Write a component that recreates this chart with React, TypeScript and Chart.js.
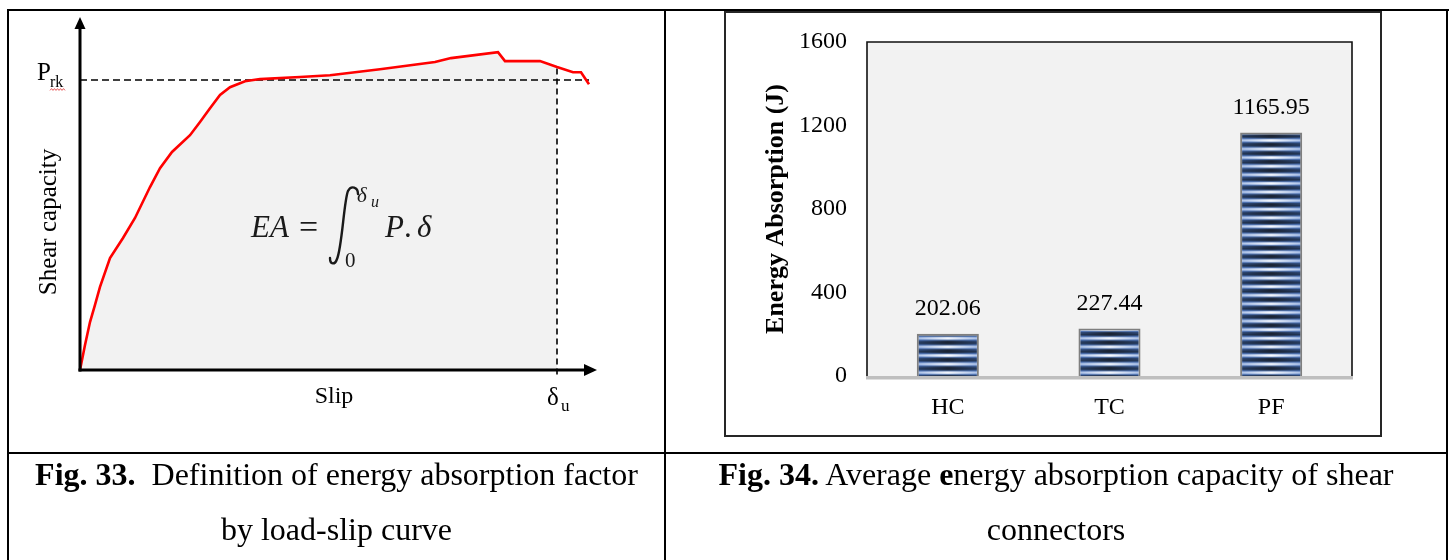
import React, { useEffect, useRef } from 'react';
import { Chart, registerables } from 'chart.js';

Chart.register(...registerables);

const SERIF = "'Liberation Serif', 'Times New Roman', serif";

// ---- Fig. 33: load-slip sketch (arbitrary units) ----
const SLIP = [0, 0.5, 1.0, 1.5, 2.0, 3.0, 4.3, 5.5, 7.0, 8.0, 9.2, 11.0, 12.0, 13.0, 14.0, 15.0, 16.5, 18.0, 22.0, 25.0, 30.0, 35.5, 37.1, 41.8, 42.5, 46.0, 47.7, 49.3, 50.1, 50.9];
const LOAD = [0, 8.3, 16.0, 21.7, 27.7, 37.3, 44.0, 50.7, 61.0, 67.3, 72.7, 78.3, 82.7, 87.3, 91.7, 94.3, 96.3, 97.0, 97.7, 98.3, 100.3, 102.7, 104.0, 106.0, 103.0, 103.0, 101.0, 99.3, 99.3, 95.3];
const P_RK = 96.7;
const DELTA_U = 47.7;
const SLIP_MAX = 51.7;
const LOAD_MAX = 117.7;

// ---- Fig. 34: average energy absorption ----
const CATEGORIES = ['HC', 'TC', 'PF'];
const ENERGY = [202.06, 227.44, 1165.95];
const Y_TICKS = [0, 400, 800, 1200, 1600];

// stripe look of the bars: [edge colour, centre colour] per pixel row
const STRIPE_ROWS: [string, string][] = [
  ['#2b4470', '#1a2231'],
  ['#223655', '#1b2434'],
  ['#2e4a7a', '#212d41'],
  ['#4a6fb0', '#4d6793'],
  ['#86a3d6', '#d0dcf0'],
  ['#b0c5ea', '#fbfcff'],
  ['#86a3d6', '#d6e1f3'],
  ['#4a6fb0', '#56719f'],
  ['#2e4a7a', '#233044'],
];

const stripeCache: Record<number, HTMLCanvasElement> = {};
function makeStripes(w: number): HTMLCanvasElement {
  const W = Math.max(1, Math.round(w));
  if (stripeCache[W]) return stripeCache[W];
  const c = document.createElement('canvas');
  c.width = W;
  c.height = STRIPE_ROWS.length;
  const g = c.getContext('2d')!;
  STRIPE_ROWS.forEach(([edge, mid], r) => {
    const gr = g.createLinearGradient(0, 0, W, 0);
    gr.addColorStop(0, edge);
    gr.addColorStop(0.5, mid);
    gr.addColorStop(1, edge);
    g.fillStyle = gr;
    g.fillRect(0, r, W, 1);
  });
  stripeCache[W] = c;
  return c;
}

const OX = 9;
const OY = 11;

function LoadSlipChart() {
  const ref = useRef<HTMLCanvasElement>(null);
  useEffect(() => {
    const canvas = ref.current!;
    const curve = SLIP.map((x, i) => ({ x, y: LOAD[i] }));
    const filled = curve.filter((p) => p.x <= DELTA_U);
    const prkLine = [{ x: 0, y: P_RK }, { x: SLIP[SLIP.length - 1], y: P_RK }];
    const duLine = [{ x: DELTA_U, y: -1.5 }, { x: DELTA_U, y: LOAD[SLIP.indexOf(DELTA_U)] }];

    const annot = {
      id: 'annot',
      afterDatasetsDraw(chart: any) {
        const { ctx, scales } = chart;
        const xs = scales.x;
        const ys = scales.y;
        const x0 = xs.getPixelForValue(0);
        const y0 = ys.getPixelForValue(0);
        const xEnd = xs.getPixelForValue(SLIP_MAX);
        const yEnd = ys.getPixelForValue(LOAD_MAX);
        ctx.save();
        ctx.strokeStyle = '#000';
        ctx.fillStyle = '#000';
        ctx.lineWidth = 3;
        // y axis with arrow
        ctx.beginPath();
        ctx.moveTo(x0, y0 + 1.5);
        ctx.lineTo(x0, yEnd + 10);
        ctx.stroke();
        ctx.beginPath();
        ctx.moveTo(x0, yEnd);
        ctx.lineTo(x0 - 5.5, yEnd + 12);
        ctx.lineTo(x0 + 5.5, yEnd + 12);
        ctx.closePath();
        ctx.fill();
        // x axis with arrow
        ctx.beginPath();
        ctx.moveTo(x0 - 1.5, y0);
        ctx.lineTo(xEnd - 10, y0);
        ctx.stroke();
        ctx.beginPath();
        ctx.moveTo(xEnd, y0);
        ctx.lineTo(xEnd - 13, y0 - 6);
        ctx.lineTo(xEnd - 13, y0 + 6);
        ctx.closePath();
        ctx.fill();

        // text, given in page coordinates
        ctx.translate(-OX, -OY);
        const txt = (s: string, x: number, y: number, font: string, align: CanvasTextAlign = 'left') => {
          ctx.font = font;
          ctx.textAlign = align;
          ctx.textBaseline = 'alphabetic';
          ctx.fillText(s, x, y);
        };
        // P_rk
        txt('P', 37, 80, `25px ${SERIF}`);
        txt('rk', 50, 87, `16px ${SERIF}`);
        ctx.strokeStyle = '#e03030';
        ctx.lineWidth = 0.8;
        ctx.beginPath();
        for (let x = 50; x <= 66; x += 1.5) {
          const y = 89.5 + (Math.round(x / 1.5) % 2 === 0 ? -0.9 : 0.9);
          if (x === 50) ctx.moveTo(x, y);
          else ctx.lineTo(x, y);
        }
        ctx.stroke();

        // Shear capacity (rotated)
        ctx.save();
        ctx.translate(49, 222);
        ctx.rotate(-Math.PI / 2);
        ctx.font = `25px ${SERIF}`;
        ctx.textAlign = 'center';
        ctx.textBaseline = 'middle';
        ctx.fillText('Shear capacity', 0, 0);
        ctx.restore();

        // Slip and delta_u
        txt('Slip', 334, 403, `24px ${SERIF}`, 'center');
        txt('\u03b4', 547, 405, `25px ${SERIF}`);
        txt('u', 561, 411, `17px ${SERIF}`);

        // formula  EA = ∫0^δu P. δ
        ctx.fillStyle = '#1a1a1a';
        txt('EA', 251, 237, `italic 31px ${SERIF}`);
        txt('=', 299, 238, `34px ${SERIF}`);
        ctx.strokeStyle = '#1a1a1a';
        ctx.lineWidth = 2.4;
        ctx.lineCap = 'round';
        ctx.beginPath();
        ctx.moveTo(358, 194);
        ctx.bezierCurveTo(358, 187, 351, 185, 348, 191);
        ctx.bezierCurveTo(344, 200, 342, 248, 337, 259);
        ctx.bezierCurveTo(335, 265, 330, 265, 330, 258);
        ctx.stroke();
        txt('\u03b4', 357, 202, `italic 21px ${SERIF}`);
        txt('u', 371, 207, `italic 16px ${SERIF}`);
        txt('0', 345, 267, `21px ${SERIF}`);
        txt('P', 385, 237, `italic 31px ${SERIF}`);
        txt('.', 404, 237, `31px ${SERIF}`);
        txt('\u03b4', 417, 237, `italic 31px ${SERIF}`);
        ctx.restore();
      },
    };

    const chart = new Chart(canvas, {
      type: 'line',
      data: {
        datasets: [
          { data: curve, borderColor: '#ff0000', borderWidth: 2.6, pointRadius: 0, fill: false, tension: 0, order: 0, clip: false } as any,
          { data: prkLine, borderColor: '#000', borderWidth: 1.6, borderDash: [7, 4], pointRadius: 0, fill: false, order: 1, clip: false } as any,
          { data: duLine, borderColor: '#000', borderWidth: 1.6, borderDash: [6, 4], pointRadius: 0, fill: false, order: 1, clip: false } as any,
          { data: filled, borderColor: 'transparent', borderWidth: 0, backgroundColor: '#f2f2f2', fill: 'origin', pointRadius: 0, order: 3 } as any,
        ],
      },
      options: {
        responsive: false,
        animation: false,
        events: [],
        layout: { padding: { left: 71, right: 66, top: 6, bottom: 81 } },
        scales: {
          x: { type: 'linear', display: false, min: 0, max: SLIP_MAX },
          y: { type: 'linear', display: false, min: 0, max: LOAD_MAX },
        },
        plugins: { legend: { display: false }, tooltip: { enabled: false } },
      },
      plugins: [annot],
    });
    return () => chart.destroy();
  }, []);
  return (
    <canvas
      ref={ref}
      width={654}
      height={440}
      style={{ position: 'absolute', left: OX, top: OY, width: 654, height: 440 }}
    />
  );
}

const BAR_PCT = 0.384;

function EnergyChart() {
  const ref = useRef<HTMLCanvasElement>(null);
  useEffect(() => {
    const canvas = ref.current!;
    const plotDeco = {
      id: 'plotDeco',
      beforeDraw(chart: any) {
        const { ctx, chartArea: a } = chart;
        ctx.save();
        ctx.fillStyle = '#f2f2f2';
        ctx.fillRect(a.left, a.top, a.right - a.left, a.bottom - a.top);
        ctx.restore();
      },
      beforeDatasetsDraw(chart: any) {
        const { ctx, chartArea: a } = chart;
        ctx.save();
        ctx.strokeStyle = '#111';
        ctx.lineWidth = 1.6;
        ctx.beginPath();
        ctx.moveTo(a.left, a.bottom);
        ctx.lineTo(a.left, a.top);
        ctx.lineTo(a.right, a.top);
        ctx.lineTo(a.right, a.bottom);
        ctx.stroke();
        ctx.restore();
      },
      afterDatasetsDraw(chart: any) {
        const { ctx, chartArea: a } = chart;
        ctx.save();
        ctx.strokeStyle = '#bfbfbf';
        ctx.lineWidth = 3.4;
        ctx.beginPath();
        ctx.moveTo(a.left - 1, a.bottom + 1.7);
        ctx.lineTo(a.right + 1, a.bottom + 1.7);
        ctx.stroke();
        const meta = chart.getDatasetMeta(0);
        ctx.fillStyle = '#000';
        ctx.font = `24px ${SERIF}`;
        ctx.textAlign = 'center';
        ctx.textBaseline = 'middle';
        meta.data.forEach((bar: any, i: number) => {
          ctx.fillText(ENERGY[i].toFixed(2), bar.x, bar.y - 25);
        });
        ctx.restore();
      },
    };

    const chart = new Chart(canvas, {
      type: 'bar',
      data: {
        labels: CATEGORIES,
        datasets: [
          {
            data: ENERGY,
            backgroundColor: (c: any) => {
              const ch = c.chart;
              if (!ch.chartArea || c.dataIndex === undefined) return '#2b4470';
              const xs = ch.scales.x;
              const ys = ch.scales.y;
              const w = (xs.width / CATEGORIES.length) * BAR_PCT;
              const cx = xs.getPixelForValue(c.dataIndex);
              const bottom = ys.getPixelForValue(0);
              const pat = ch.ctx.createPattern(makeStripes(w), 'repeat');
              pat.setTransform(new DOMMatrix([1, 0, 0, 0.956, cx - w / 2, bottom]));
              return pat;
            },
            borderColor: '#7f7f7f',
            borderWidth: 2,
            barPercentage: BAR_PCT,
            categoryPercentage: 1,
          } as any,
        ],
      },
      options: {
        responsive: false,
        animation: false,
        events: [],
        layout: { padding: { left: 0, right: 28, top: 29, bottom: 0 } },
        scales: {
          x: {
            grid: { display: false, drawTicks: false },
            border: { display: false },
            ticks: { color: '#000', font: { family: SERIF, size: 24 }, padding: 17 },
            afterFit: (s: any) => {
              s.height = 59;
            },
          },
          y: {
            min: 0,
            max: 1600,
            grid: { display: false, drawTicks: false },
            border: { display: false },
            ticks: {
              color: '#000',
              font: { family: SERIF, size: 24 },
              padding: 20,
              callback: (v: any) => String(v),
            },
            afterBuildTicks: (s: any) => {
              s.ticks = Y_TICKS.map((v) => ({ value: v }));
            },
            afterFit: (s: any) => {
              s.width = 141;
              s.paddingTop = 0;
              s.paddingBottom = 0;
            },
            title: {
              display: true,
              text: 'Energy Absorption (J)',
              color: '#000',
              font: { family: SERIF, size: 26, weight: 'bold' },
              padding: { top: 35, bottom: 0 },
            },
          },
        },
        plugins: { legend: { display: false }, tooltip: { enabled: false } },
      },
      plugins: [plotDeco],
    });
    return () => chart.destroy();
  }, []);
  return (
    <canvas
      ref={ref}
      width={654}
      height={422}
      style={{ position: 'absolute', left: 726, top: 13, width: 654, height: 422 }}
    />
  );
}

const lineStyle = (left: number, top: number, width: number, height: number): React.CSSProperties => ({
  position: 'absolute',
  left,
  top,
  width,
  height,
  background: '#000',
});

export default function App() {
  const cap: React.CSSProperties = {
    position: 'absolute',
    top: 447,
    textAlign: 'center',
    fontFamily: SERIF,
    fontSize: 32,
    lineHeight: '55px',
    color: '#000',
    whiteSpace: 'pre',
  };
  return (
    <div
      style={{
        position: 'absolute',
        left: 0,
        top: 0,
        width: 1449,
        height: 560,
        background: '#fff',
        overflow: 'hidden',
        fontFamily: SERIF,
      }}
    >
      <LoadSlipChart />
      <div
        style={{
          position: 'absolute',
          left: 724,
          top: 11,
          width: 658,
          height: 426,
          border: '2px solid #262626',
          boxSizing: 'border-box',
        }}
      />
      <EnergyChart />
      <div style={lineStyle(7, 9, 1442, 2)} />
      <div style={lineStyle(7, 9, 2, 551)} />
      <div style={lineStyle(664, 9, 2, 551)} />
      <div style={lineStyle(1446, 9, 2, 551)} />
      <div style={lineStyle(7, 452, 1441, 2)} />
      <div style={{ ...cap, left: 9, width: 655 }}>
        <b>Fig. 33.</b>
        {'  Definition of energy absorption factor'}
        <br />
        by load-slip curve
      </div>
      <div style={{ ...cap, left: 666, width: 780 }}>
        <b>Fig. 34.</b>
        {' Average '}
        <b>e</b>
        {'nergy absorption capacity of shear'}
        <br />
        connectors
      </div>
    </div>
  );
}
